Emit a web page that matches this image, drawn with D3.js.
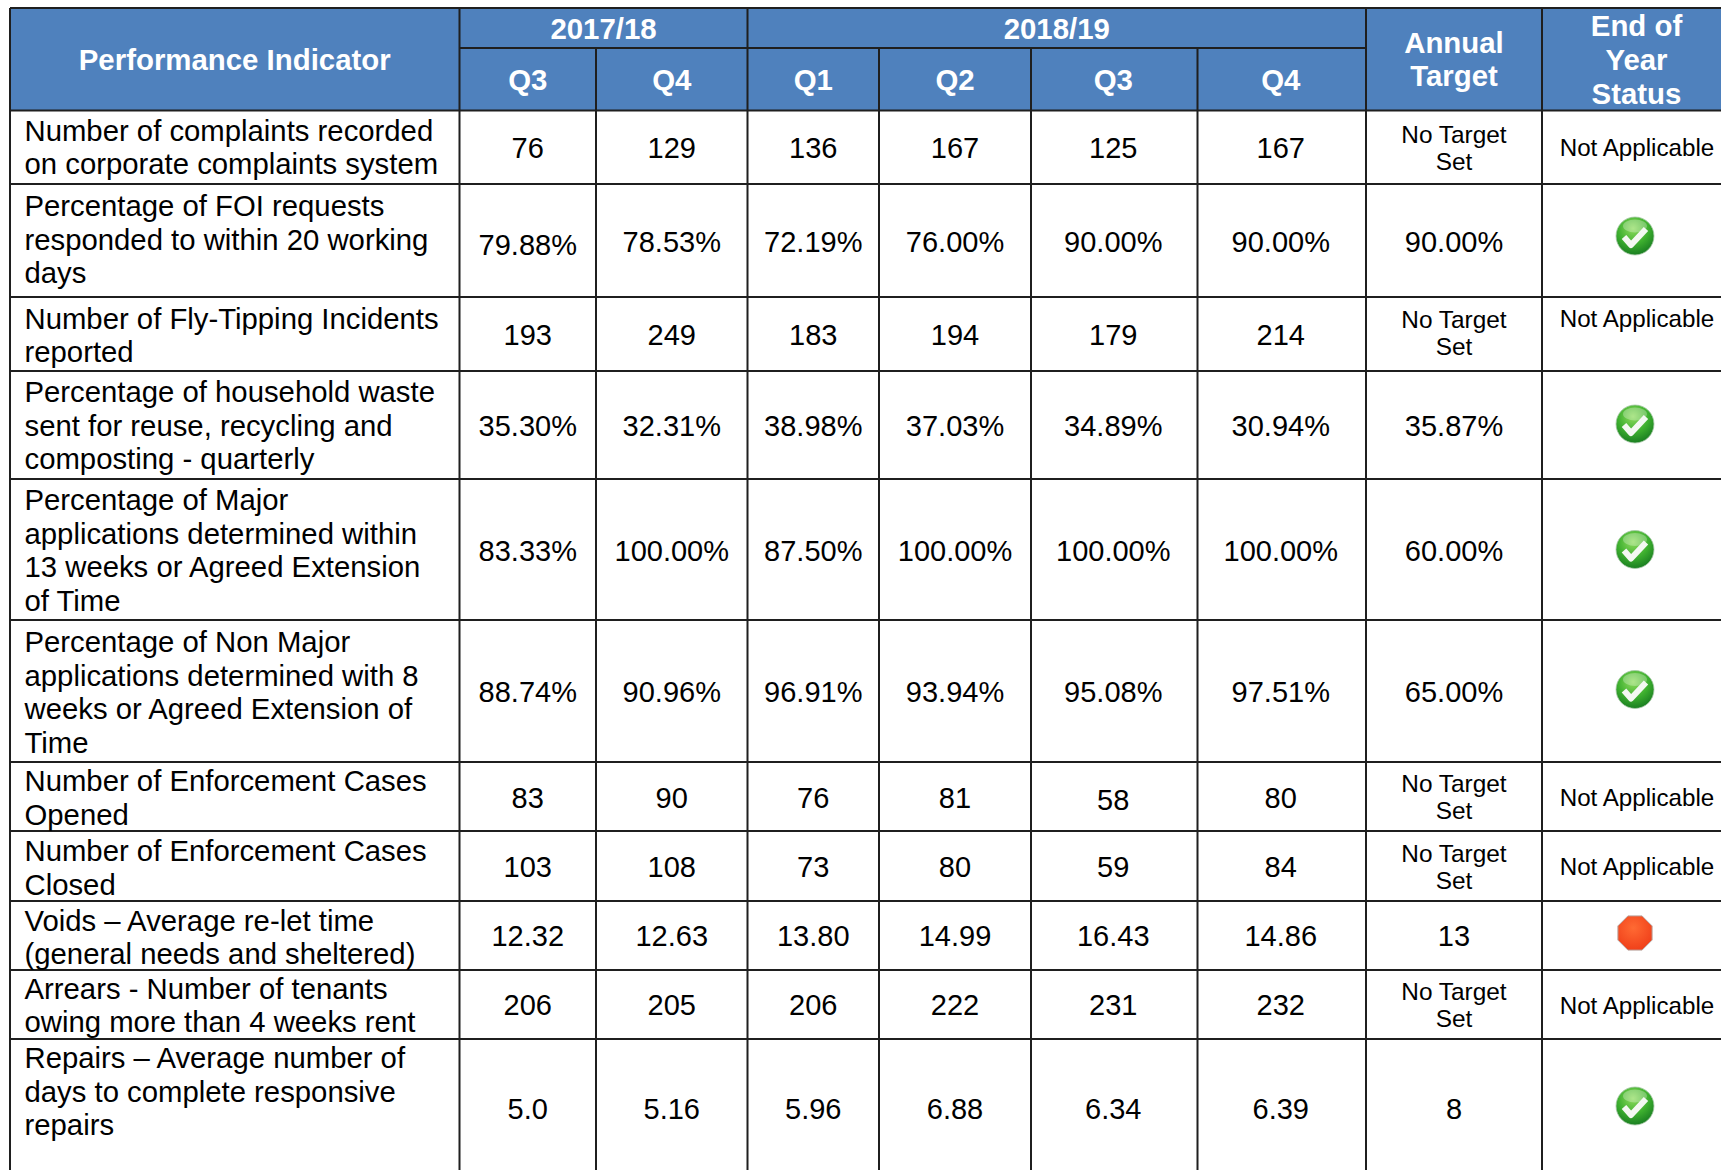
<!DOCTYPE html>
<html>
<head>
<meta charset="utf-8">
<script src="https://cdn.jsdelivr.net/npm/d3@7"></script>
<style>
  html, body { margin: 0; background: #fff; overflow: hidden; }
  text { font-family: "Liberation Sans", Arial, sans-serif; fill: #000; }
  .head { fill: #fff; font-weight: bold; font-size: 29.4px; text-anchor: middle; }
</style>
</head>
<body>
<div id="container"></div>
<script>
// Table contents
const indicators = [
  ["Number of complaints recorded", "on corporate complaints system"],
  ["Percentage of FOI requests", "responded to within 20 working", "days"],
  ["Number of Fly-Tipping Incidents", "reported"],
  ["Percentage of household waste", "sent for reuse, recycling and", "composting - quarterly"],
  ["Percentage of Major", "applications determined within", "13 weeks or Agreed Extension", "of Time"],
  ["Percentage of Non Major", "applications determined with 8", "weeks or Agreed Extension of", "Time"],
  ["Number of Enforcement Cases", "Opened"],
  ["Number of Enforcement Cases", "Closed"],
  ["Voids \u2013 Average re-let time", "(general needs and sheltered)"],
  ["Arrears - Number of tenants", "owing more than 4 weeks rent"],
  ["Repairs \u2013 Average number of", "days to complete responsive", "repairs"]
];
const q3_1718 = ["76", "79.88%", "193", "35.30%", "83.33%", "88.74%", "83", "103", "12.32", "206", "5.0"];
const q4_1718 = ["129", "78.53%", "249", "32.31%", "100.00%", "90.96%", "90", "108", "12.63", "205", "5.16"];
const q1_1819 = ["136", "72.19%", "183", "38.98%", "87.50%", "96.91%", "76", "73", "13.80", "206", "5.96"];
const q2_1819 = ["167", "76.00%", "194", "37.03%", "100.00%", "93.94%", "81", "80", "14.99", "222", "6.88"];
const q3_1819 = ["125", "90.00%", "179", "34.89%", "100.00%", "95.08%", "58", "59", "16.43", "231", "6.34"];
const q4_1819 = ["167", "90.00%", "214", "30.94%", "100.00%", "97.51%", "80", "84", "14.86", "232", "6.39"];
const targets = ["No Target Set", "90.00%", "No Target Set", "35.87%", "60.00%", "65.00%", "No Target Set", "No Target Set", "13", "No Target Set", "8"];
const statuses = ["na", "ok", "na", "ok", "ok", "ok", "na", "na", "bad", "na", "ok"];
const quarters = ["Q3", "Q4", "Q1", "Q2", "Q3", "Q4"];
const years = ["2017/18", "2018/19"];

// Measured grid of the table
const width = 1721, height = 1170;
const colEdges = [10, 459.5, 596, 747.5, 879, 1031, 1197.5, 1366, 1542, 1731];
const rowEdges = [110.5, 184, 297, 371, 479, 620, 762, 831, 901, 970, 1039, 1178];
const headTop = 9, headMid = 48;

// Hand tweaks, the source table is not evenly set
const labelDrop = [30.2, 32, 31.5, 31, 31, 32, 29, 30, 29.5, 28.5, 29];
const valueDrop = [11, 11, 11, 11, 11, 11, 11, 11, 10, 10, 10];
const iconShift = { 1: -4.5, 3: -1, 4: 0, 5: -1.5, 8: -2.5, 10: -2.5 };
const nudges = { "1-0": 3, "6-4": 2 };

const colX = d3.scaleOrdinal(d3.range(colEdges.length), colEdges);
const rowY = d3.scaleOrdinal(d3.range(rowEdges.length), rowEdges);
const colMid = i => (colX(i) + colX(i + 1)) / 2;
const rowMid = i => (rowY(i) + rowY(i + 1)) / 2;
// The last two quarter columns sit a touch left of centre
const valueX = i => colMid(i) - (i === 5 || i === 6 ? 1 : 0);

const svg = d3.select("#container").append("svg")
  .attr("width", width).attr("height", height)
  .style("display", "block");

const defs = svg.append("defs");
const green = defs.append("radialGradient").attr("id", "green")
  .attr("cx", "45%").attr("cy", "30%").attr("r", "75%");
green.append("stop").attr("offset", "0%").attr("stop-color", "#8fdc5e");
green.append("stop").attr("offset", "55%").attr("stop-color", "#3cae2e");
green.append("stop").attr("offset", "100%").attr("stop-color", "#14761f");
const red = defs.append("radialGradient").attr("id", "red")
  .attr("cx", "45%").attr("cy", "35%").attr("r", "75%");
red.append("stop").attr("offset", "0%").attr("stop-color", "#ff6a33");
red.append("stop").attr("offset", "100%").attr("stop-color", "#ee3a16");

// Header background
svg.append("rect")
  .attr("x", colX(0)).attr("y", headTop)
  .attr("width", width - colX(0)).attr("height", rowY(0) - headTop)
  .attr("fill", "#4f81bd");

// Grid lines
const lineColor = "#1f1f1f";
const fullHeight = [0, 1, 3, 7, 8];
const gridLines = svg.append("g").attr("stroke", lineColor).attr("stroke-width", 2);
gridLines.selectAll("line.v")
  .data(d3.range(0, 9))
  .join("line").attr("class", "v")
  .attr("x1", colX).attr("x2", colX)
  .attr("y1", d => (fullHeight.includes(d) ? headTop : headMid) - 1)
  .attr("y2", height);
gridLines.selectAll("line.h")
  .data(d3.range(0, 11))
  .join("line").attr("class", "h")
  .attr("x1", colX(0)).attr("x2", width)
  .attr("y1", rowY).attr("y2", rowY);
gridLines.append("line")
  .attr("x1", colX(0)).attr("x2", width)
  .attr("y1", headTop - 1).attr("y2", headTop - 1);
gridLines.append("line")
  .attr("x1", colX(1)).attr("x2", colX(7))
  .attr("y1", headMid).attr("y2", headMid);

// Header text
const head = svg.append("g");
head.append("text").attr("class", "head")
  .attr("x", (colX(0) + colX(1)) / 2).attr("y", 70)
  .text("Performance Indicator");
head.selectAll("text.year")
  .data(years)
  .join("text").attr("class", "head year")
  .attr("x", (d, i) => i === 0 ? (colX(1) + colX(3)) / 2 : (colX(3) + colX(7)) / 2)
  .attr("y", 39)
  .text(d => d);
head.selectAll("text.quarter")
  .data(quarters)
  .join("text").attr("class", "head quarter")
  .attr("x", (d, i) => valueX(i + 1))
  .attr("y", 90)
  .text(d => d);
head.append("text").attr("class", "head")
  .selectAll("tspan").data(["Annual", "Target"]).join("tspan")
  .attr("x", colMid(7)).attr("y", (d, i) => 53 + i * 33.3)
  .text(d => d);
head.append("text").attr("class", "head")
  .selectAll("tspan").data(["End of", "Year", "Status"]).join("tspan")
  .attr("x", colMid(8)).attr("y", (d, i) => 36 + i * 34)
  .text(d => d);

// Indicator names
svg.append("g").selectAll("text")
  .data(indicators)
  .join("text")
  .attr("font-size", 29.3)
  .each(function (lines, r) {
    d3.select(this).selectAll("tspan").data(lines).join("tspan")
      .attr("x", 24.5)
      .attr("y", (d, i) => rowY(r) + labelDrop[r] + i * 33.7)
      .text(d => d);
  });

// Quarter values
const series = [q3_1718, q4_1718, q1_1819, q2_1819, q3_1819, q4_1819];
series.forEach((values, c) => {
  svg.append("g").selectAll("text")
    .data(values)
    .join("text")
    .attr("font-size", 29)
    .attr("text-anchor", "middle")
    .attr("x", valueX(c + 1))
    .attr("y", (d, r) => rowMid(r) + valueDrop[r] + (nudges[r + "-" + c] || 0))
    .text(d => d);
});

// Annual target
svg.append("g").selectAll("text")
  .data(targets)
  .join("text")
  .attr("text-anchor", "middle")
  .attr("font-size", d => d === "No Target Set" ? 24.4 : 29)
  .each(function (d, r) {
    const el = d3.select(this);
    if (d === "No Target Set") {
      el.selectAll("tspan").data(["No Target", "Set"]).join("tspan")
        .attr("x", colMid(7))
        .attr("y", (t, i) => rowMid(r) - 4.5 - (r === 2 ? 2 : 0) + i * 27.3)
        .text(t => t);
    } else {
      el.attr("x", colMid(7)).attr("y", rowMid(r) + valueDrop[r]).text(d);
    }
  });

// End of year status
const statusX = 1635;
const statusRows = statuses.map((s, r) => ({ s, r }));
const status = svg.append("g");
status.selectAll("text")
  .data(statusRows.filter(d => d.s === "na"))
  .join("text")
  .attr("font-size", 24.2)
  .attr("text-anchor", "middle")
  .attr("x", 1637)
  .attr("y", d => d.r === 2 ? 327 : rowMid(d.r) + 9)
  .text("Not Applicable");

const okMarks = status.selectAll("g.ok")
  .data(statusRows.filter(d => d.s === "ok"))
  .join("g").attr("class", "ok")
  .attr("transform", d => `translate(${statusX},${rowMid(d.r) + iconShift[d.r]})`);
okMarks.append("circle").attr("r", 19).attr("fill", "url(#green)")
  .attr("stroke", "#a9c9a9").attr("stroke-width", 0.8);
okMarks.append("ellipse").attr("cy", -10).attr("rx", 12).attr("ry", 6.5)
  .attr("fill", "#fff").attr("opacity", 0.28);
okMarks.append("path")
  .attr("d", d3.line()([[-11, 1], [-4, 9], [11, -7]]))
  .attr("fill", "none").attr("stroke", "#f4f8f2")
  .attr("stroke-width", 6).attr("stroke-linejoin", "round");

status.selectAll("path.bad")
  .data(statusRows.filter(d => d.s === "bad"))
  .join("path").attr("class", "bad")
  .attr("transform", d => `translate(${statusX},${rowMid(d.r) + iconShift[d.r]})`)
  .attr("fill", "url(#red)")
  .attr("stroke", "#b9a09a").attr("stroke-width", 1)
  .attr("stroke-linejoin", "round")
  .attr("d", d3.lineRadial().curve(d3.curveLinearClosed)(
    d3.range(8).map(i => [Math.PI / 8 + i * Math.PI / 4, 18.5])));
</script>
</body>
</html>
